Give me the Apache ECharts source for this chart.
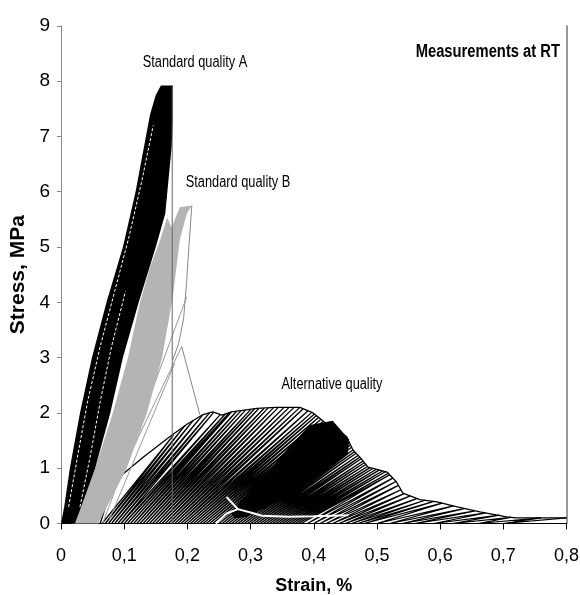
<!DOCTYPE html>
<html><head><meta charset="utf-8">
<script src="https://cdn.jsdelivr.net/npm/echarts@6/dist/echarts.min.js"></script>
<style>html,body{margin:0;padding:0;background:#fff}#c{width:580px;height:595px}</style>
</head><body><div id="c"></div>
<script>
// ---- tick labels ----
const strainTickLabels = ['0', '0,1', '0,2', '0,3', '0,4', '0,5', '0,6', '0,7', '0,8'];
const stressTickLabels = ['0', '1', '2', '3', '4', '5', '6', '7', '8', '9'];

// ---- Standard quality A (dense bundle of cycles) ----
const qualityAOutline = [[0,0],[0.005,0.3],[0.014,1],[0.030,2],[0.049,3],[0.072,4],[0.098,5],[0.118,6],[0.141,7.4],[0.150,7.75],[0.158,7.92],
  [0.177,7.92],[0.177,7.3],[0.175,6.8],[0.165,5.6],[0.150,5.0],[0.123,4],[0.098,3],[0.078,2],[0.054,1],[0.035,0.4],[0.022,0]];
const qualityAStreak1 = [[0.012,0.3],[0.026,1.2],[0.042,2.2],[0.062,3.2],[0.085,4.2],[0.108,5.2],[0.128,6.2],[0.146,7.2]];
const qualityAStreak2 = [[0.030,0.3],[0.046,1.2],[0.062,2.2],[0.080,3.2],[0.102,4.2]];
const qualityAFailure = [[0.176,7.9],[0.176,0]];

// ---- Standard quality B ----
const qualityBOutline = [[0.018,0],[0.054,1],[0.082,2],[0.106,3],[0.125,4],[0.141,4.64],[0.157,5.13],[0.168,5.54],[0.175,5.35],[0.188,5.72],
  [0.207,5.75],[0.199,5.6],[0.188,5.13],[0.177,4.1],[0.160,3],[0.136,2],[0.104,1],[0.059,0]];
const qualityBPostPeak = [[0.207,5.75],[0.201,4.76],[0.199,4.4],[0.194,3.7],[0.186,3.25],[0.177,2.96]];
const qualityBDescent = [[0.191,3.2],[0.205,2.6],[0.220,1.96]];
const qualityBReload1 = [[0.057,0],[0.191,3.2]];
const qualityBReload2 = [[0.074,0],[0.180,2.9]];
const qualityBReload3 = [[0.066,0],[0.199,4.1]];

// ---- Alternative quality ----
const altEnvelope = [[0.062,0],[0.083,0.75],[0.13,1.2],[0.172,1.57],[0.2,1.8],[0.225,1.97],[0.24,2.02],[0.255,1.96],[0.27,2.02],[0.29,2.05],
  [0.31,2.08],[0.34,2.1],[0.378,2.1],[0.399,2.0],[0.426,1.75],[0.452,1.57],[0.462,1.33],[0.473,1.2],[0.486,1.02],[0.516,0.93],
  [0.531,0.75],[0.541,0.55],[0.568,0.43],[0.595,0.39],[0.627,0.3],[0.663,0.21],[0.705,0.12],[0.72,0.1],[0.8,0.1]];
const altResidual = [0.065,0.070,0.075,0.080,0.085,0.090,0.095,0.100,0.105,0.110,0.115,0.120,0.125,0.130,0.135,0.140,0.145,0.150,0.155,0.160,
  0.165,0.170,0.175,0.180,0.185,0.190,0.195,0.200,0.205,0.210,0.215,0.220,0.225,0.230,0.235,0.240,0.245,0.250,0.255,0.260,
  0.265,0.270,0.275,0.280,0.285,0.290,0.295,0.300,0.305,0.310,0.315,0.320,0.325,0.330,0.335,0.340,0.345,0.350,0.355,0.360,
  0.365,0.370,0.375,0.380,0.390,0.400,0.410,0.420,0.430,0.440,0.450,0.460,0.470,0.480,0.500,0.520,0.540,0.560,0.590,0.620,0.660,0.700];
const altPeakStrain = [0.178,0.196,0.209,0.224,0.235,0.241,0.252,0.260,0.266,0.270,0.278,0.285,0.292,0.300,0.306,0.313,0.321,0.328,0.336,0.344,
  0.353,0.361,0.369,0.378,0.383,0.391,0.397,0.401,0.404,0.408,0.411,0.415,0.419,0.422,0.426,0.430,0.434,0.438,0.442,0.446,
  0.450,0.453,0.455,0.456,0.458,0.460,0.462,0.465,0.467,0.470,0.473,0.475,0.478,0.480,0.483,0.485,0.489,0.494,0.499,0.504,
  0.509,0.514,0.518,0.520,0.525,0.530,0.534,0.538,0.543,0.553,0.563,0.576,0.590,0.603,0.621,0.638,0.655,0.672,0.694,0.712,0.760,0.800];
const altPeakStress = [1.60,1.77,1.86,1.96,2.00,2.00,1.97,1.98,2.00,2.02,2.03,2.04,2.05,2.06,2.07,2.08,2.08,2.09,2.09,2.10,
  2.10,2.10,2.10,2.10,2.07,2.04,2.01,1.98,1.95,1.92,1.88,1.85,1.82,1.79,1.75,1.73,1.70,1.67,1.64,1.62,
  1.59,1.55,1.51,1.46,1.42,1.38,1.33,1.30,1.27,1.23,1.20,1.17,1.13,1.10,1.07,1.03,1.01,1.00,0.98,0.97,
  0.95,0.94,0.91,0.88,0.82,0.76,0.69,0.61,0.54,0.50,0.45,0.42,0.40,0.37,0.32,0.27,0.23,0.19,0.15,0.11,0.10,0.10];
const altDenseZone = [[0.268,0.20],[0.326,0.91],[0.357,1.33],[0.394,1.78],[0.43,1.86],[0.456,1.52],[0.454,1.25],[0.42,0.95],[0.378,0.62],[0.326,0.30],[0.294,0.12],[0.275,0.10]];
const altWhiteTrace = [[0.245,0.0],[0.262,0.18],[0.280,0.26],[0.300,0.20],[0.318,0.14],[0.360,0.12],[0.400,0.13],[0.455,0.15]];
const altWhiteBranch = [[0.280,0.26],[0.262,0.48]];

// ---- build: each cycle reloads from its residual strain to the envelope and unloads to the next residual ----
const altCyclePath = [];
for (let i = 0; i < altResidual.length; i++) {
  altCyclePath.push([altResidual[i], 0]);
  altCyclePath.push([altPeakStrain[i], altPeakStress[i]]);
}

const FONT = "'Liberation Sans',Arial,sans-serif";

function lineS(name, pts, color, width, z, dash) {
  return { type: 'line', name, data: pts, symbol: 'none', showSymbol: false, silent: true, animation: false, z,
    lineStyle: { color, width, type: dash || 'solid' } };
}
function polyS(name, pts, fill, z) {
  return { type: 'custom', name, coordinateSystem: 'cartesian2d', data: pts, silent: true, animation: false, z,
    renderItem: (params, api) => params.dataIndex === 0
      ? { type: 'polygon', shape: { points: pts.map(p => api.coord(p)) }, style: { fill } }
      : { type: 'group', children: [] } };
}
function note(text, x, y, size, bold, align, sx) {
  return { type: 'text', x, y, scaleX: sx, scaleY: 1,
    style: { text, font: (bold ? 'bold ' : '') + size + 'px ' + FONT, fill: '#000',
      align, verticalAlign: 'middle', textAlign: align, textVerticalAlign: 'middle' } };
}

const chart = echarts.init(document.getElementById('c'), null, { renderer: 'canvas' });
chart.setOption({
  backgroundColor: '#fff',
  animation: false,
  grid: { left: 61, right: 13.5, top: 25.8, bottom: 71.5, containLabel: false, outerBoundsMode: 'none' },
  xAxis: {
    type: 'value', min: 0, max: 0.8, interval: 0.1,
    axisLine: { lineStyle: { color: '#000', width: 1 } },
    axisTick: { show: true, length: 6, lineStyle: { color: '#000' } },
    axisLabel: { formatter: v => strainTickLabels[Math.round(v * 10)], fontFamily: FONT, fontSize: 18, color: '#000', margin: 24 },
    splitLine: { show: false },
    name: 'Strain, %', nameLocation: 'middle', nameGap: 54,
    nameTextStyle: { fontFamily: FONT, fontWeight: 'bold', fontSize: 18, color: '#000' }
  },
  yAxis: [{
    type: 'value', min: 0, max: 9, interval: 1,
    axisLine: { show: true, lineStyle: { color: '#888', width: 1 } },
    axisTick: { show: true, length: 4, lineStyle: { color: '#888' } },
    axisLabel: { formatter: v => stressTickLabels[Math.round(v)], fontFamily: FONT, fontSize: 19, color: '#000', margin: 11 },
    splitLine: { show: false },
    name: 'Stress, MPa', nameLocation: 'middle', nameGap: 27,
    nameTextStyle: { fontFamily: FONT, fontWeight: 'bold', fontSize: 21, color: '#000' }
  }, {
    type: 'value', position: 'right', min: 0, max: 9, interval: 1,
    axisLine: { show: true, lineStyle: { color: '#777', width: 1.5 } },
    axisTick: { show: false }, axisLabel: { show: false }, splitLine: { show: false }
  }],
  series: [
    lineS('Alternative quality cycles', altCyclePath, '#000', 1.25, 2),
    lineS('Alternative quality envelope', altEnvelope, '#000', 1.3, 2),
    polyS('Alternative quality dense', altDenseZone, '#000', 3),
    lineS('Alternative white trace', altWhiteTrace, '#fff', 2, 4),
    lineS('Alternative white branch', altWhiteBranch, '#fff', 2, 4),
    lineS('B reload 1', qualityBReload1, '#999', 1, 5),
    lineS('B reload 2', qualityBReload2, '#999', 1, 5),
    lineS('B reload 3', qualityBReload3, '#999', 1, 5),
    lineS('B post-peak', qualityBPostPeak, '#888', 1, 5),
    lineS('B descent', qualityBDescent, '#888', 1, 5),
    polyS('Standard quality B', qualityBOutline, '#b4b4b4', 6),
    polyS('Standard quality A', qualityAOutline, '#000', 7),
    lineS('A streak 1', qualityAStreak1, '#fff', 1, 8, [3, 2]),
    lineS('A streak 2', qualityAStreak2, '#fff', 1, 8, [3, 2]),
    lineS('A failure', qualityAFailure, '#666', 1, 8)
  ],
  graphic: [
    note('Standard quality A', 195, 63, 16, false, 'center', 0.8),
    note('Standard quality B', 238, 183, 16, false, 'center', 0.8),
    note('Alternative quality', 332, 385, 16, false, 'center', 0.8),
    note('Measurements at RT', 560, 52, 18, true, 'right', 0.82)
  ]
});
</script></body></html>
